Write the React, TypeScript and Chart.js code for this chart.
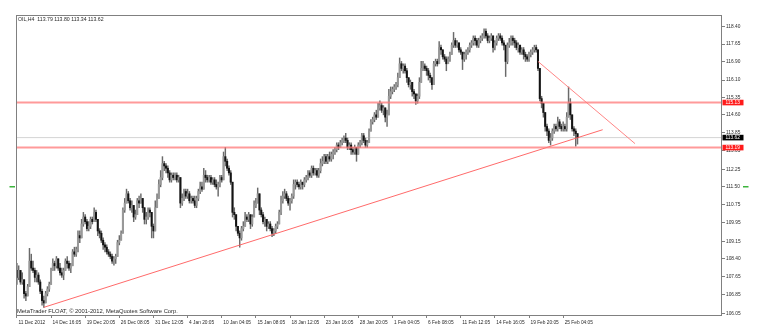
import React, { useEffect, useRef } from "react";
import { Chart, registerables } from "chart.js";

Chart.register(...registerables);

const symbolTitle = "OIL,H4";
const lastBar = ["113.79", "113.80", "113.34", "113.62"];
const copyright = "MetaTrader FLOAT, © 2001-2012, MetaQuotes Software Corp.";

const xLabels = [
  "11 Dec 2012", "14 Dec 16:05", "19 Dec 20:05", "26 Dec 08:05", "31 Dec 12:05",
  "4 Jan 20:05", "10 Jan 04:05", "15 Jan 08:05", "18 Jan 12:05", "23 Jan 16:05",
  "28 Jan 20:05", "1 Feb 04:05", "6 Feb 08:05", "11 Feb 12:05", "14 Feb 16:05",
  "19 Feb 20:05", "25 Feb 04:05",
];
const barsPerLabel = 19;

const yTicks = [
  118.4, 117.65, 116.9, 116.1, 115.35, 114.6, 113.85, 113.05, 112.25, 111.5,
  110.75, 109.95, 109.15, 108.4, 107.65, 106.85, 106.05,
];

const firstOpen = 107.9;

const closes = [
  107.6, 107.9, 107.4, 107.5, 106.9, 106.8, 107.2, 108.3, 108.0, 107.9,
  107.6, 107.7, 107.4, 107.0, 106.6, 106.5, 106.9, 107.1, 107.3, 107.9,
  108.2, 108.1, 108.4, 108.0, 107.8, 107.7, 107.9, 108.3, 108.2, 108.0,
  108.1, 108.7, 108.6, 108.8, 109.4, 109.3, 109.9, 110.2, 110.0, 109.7,
  109.8, 110.1, 110.0, 110.4, 110.1, 109.6, 109.5, 109.2, 109.0, 108.9,
  108.7, 108.6, 108.5, 108.3, 108.4, 108.5, 109.1, 109.2, 109.5, 110.5,
  110.8, 111.2, 110.9, 110.6, 110.7, 110.2, 110.3, 110.9, 110.8, 111.0,
  110.6, 110.1, 110.2, 110.5, 110.4, 109.8, 109.6, 110.6, 111.0, 111.6,
  111.9, 112.5, 112.4, 112.3, 112.1, 111.8, 112.0, 111.9, 112.0, 111.8,
  111.9, 110.8, 111.0, 111.3, 111.1, 111.2, 110.9, 111.0, 110.9, 110.7,
  111.0, 111.3, 111.5, 111.4, 112.0, 111.9, 111.8, 111.9, 111.7, 111.8,
  111.6, 111.5, 111.6, 111.9, 111.8, 112.8, 112.6, 112.3, 112.1, 111.7,
  110.4, 110.3, 109.8, 109.5, 109.3, 109.7, 109.8, 110.2, 110.1, 110.3,
  109.9, 110.2, 110.7, 110.8, 111.2, 110.5, 110.3, 110.0, 110.1, 109.8,
  109.9, 109.7, 109.5, 109.6, 109.8, 109.9, 110.4, 110.9, 111.1, 111.2,
  111.0, 110.8, 110.9, 111.1, 111.6, 111.7, 111.6, 111.5, 111.7, 111.6,
  111.8, 111.9, 112.1, 112.0, 112.3, 112.1, 112.2, 112.0, 112.2, 112.5,
  112.6, 112.8, 112.6, 112.8, 112.7, 112.9, 113.0, 113.1, 113.3, 113.2,
  113.4, 113.5, 113.6, 113.5, 113.2, 113.3, 113.1, 113.0, 113.2, 112.9,
  113.3, 113.4, 113.7, 113.5, 113.3, 113.4, 113.9, 114.3, 114.4, 114.6,
  114.5, 114.9, 115.0, 114.8, 114.9, 114.5, 114.6, 115.4, 115.6, 115.7,
  115.8, 115.9, 116.2, 116.8, 116.6, 116.7, 116.5, 116.2, 115.9, 116.0,
  115.6, 115.5, 115.2, 115.4, 116.0, 116.6, 116.7, 116.6, 116.5, 116.3,
  116.2, 115.9, 116.8, 116.9, 116.8, 117.5, 117.4, 117.1, 117.0, 116.8,
  117.0, 117.2, 117.6, 117.8, 117.6, 117.7, 117.4, 117.3, 117.0, 117.2,
  117.3, 117.4, 117.6, 117.7, 117.9, 117.8, 117.6, 117.8, 117.9, 118.0,
  118.2, 118.0, 117.8, 117.9, 118.0, 117.5, 117.7, 117.9, 118.0, 117.9,
  117.7, 117.6, 116.9, 117.6, 117.7, 117.9, 117.8, 117.7, 117.5, 117.6,
  117.3, 117.4, 117.2, 117.1, 117.0, 117.2, 117.3, 117.4, 117.5, 117.4,
  116.6, 115.3, 115.1, 114.7, 114.1, 113.9, 113.5, 113.6, 113.9, 114.1,
  114.0, 114.3, 114.1, 114.0, 114.1, 114.0, 114.5, 115.1, 114.6, 114.0,
  113.9, 113.79, 113.62,
];

const highs = [
  108.2, 108.1, 107.9, 107.8, 107.4, 107.0, 107.3, 108.85, 108.6, 108.3,
  108.0, 107.9, 107.8, 107.5, 107.1, 106.8, 107.0, 107.2, 107.4, 108.0,
  108.4, 108.3, 108.5, 108.4, 108.2, 108.0, 108.0, 108.4, 108.5, 108.3,
  108.2, 108.8, 108.9, 108.9, 109.6, 109.6, 110.1, 110.4, 110.3, 110.1,
  110.0, 110.2, 110.2, 110.6, 110.5, 110.1, 109.7, 109.6, 109.3, 109.1,
  109.0, 108.8, 108.7, 108.6, 108.5, 108.6, 109.2, 109.4, 109.6, 110.6,
  111.0, 111.4, 111.3, 111.0, 110.9, 110.7, 110.5, 111.0, 111.1, 111.2,
  111.0, 110.6, 110.4, 110.6, 110.6, 110.4, 109.9, 110.9, 111.2, 111.8,
  112.2, 112.8, 112.6, 112.5, 112.4, 112.2, 112.1, 112.1, 112.1, 112.1,
  112.0, 111.9, 111.2, 111.4, 111.4, 111.4, 111.3, 111.1, 111.1, 111.1,
  111.1, 111.4, 111.7, 111.7, 112.3, 112.2, 112.0, 112.0, 112.0, 111.9,
  111.9, 111.8, 111.7, 112.0, 112.0, 113.0, 113.2, 112.7, 112.4, 112.2,
  110.9, 110.6, 110.2, 109.8, 109.6, 109.8, 110.0, 110.4, 110.3, 110.4,
  110.3, 110.3, 110.9, 111.0, 111.45, 111.1, 110.6, 110.4, 110.2, 110.1,
  110.0, 110.0, 109.8, 109.7, 109.9, 110.0, 110.5, 111.1, 111.3, 111.4,
  111.3, 111.1, 111.0, 111.2, 111.8, 111.8, 111.8, 111.7, 111.8, 111.7,
  111.9, 112.0, 112.2, 112.2, 112.4, 112.4, 112.3, 112.3, 112.3, 112.7,
  112.8, 112.9, 112.9, 112.9, 113.0, 113.0, 113.1, 113.2, 113.4, 113.4,
  113.5, 113.6, 113.7, 113.8, 113.6, 113.4, 113.4, 113.2, 113.3, 113.2,
  113.4, 113.5, 113.8, 113.8, 113.6, 113.5, 114.0, 114.4, 114.5, 114.7,
  114.8, 115.1, 115.2, 115.1, 115.0, 114.9, 114.8, 115.7, 115.8, 115.8,
  115.9, 116.0, 116.4, 117.05, 116.9, 116.8, 116.8, 116.6, 116.2, 116.1,
  116.0, 115.7, 115.5, 115.5, 116.2, 116.9, 116.9, 116.8, 116.7, 116.6,
  116.4, 116.2, 116.9, 117.0, 117.0, 117.75, 117.6, 117.4, 117.2, 117.1,
  117.1, 117.3, 117.7, 118.15, 117.9, 117.8, 117.7, 117.5, 117.3, 117.3,
  117.4, 117.5, 117.7, 117.8, 118.0, 118.0, 117.9, 117.9, 118.0, 118.1,
  118.3, 118.3, 118.1, 118.0, 118.1, 118.0, 117.8, 118.0, 118.1, 118.1,
  118.0, 117.8, 117.6, 117.7, 117.9, 118.0, 118.0, 117.9, 117.8, 117.7,
  117.6, 117.5, 117.5, 117.3, 117.2, 117.3, 117.4, 117.5, 117.6, 117.6,
  117.4, 116.6, 115.4, 115.1, 114.7, 114.2, 114.0, 113.8, 114.0, 114.2,
  114.2, 114.5, 114.4, 114.2, 114.3, 114.2, 114.7, 115.8, 115.3, 114.6,
  114.1, 114.0, 113.8,
];

const lows = [
  107.3, 107.5, 107.3, 107.3, 106.7, 106.6, 106.8, 107.2, 107.9, 107.8,
  107.4, 107.4, 107.3, 106.9, 106.4, 106.31, 106.5, 106.8, 107.0, 107.3,
  107.9, 107.9, 108.0, 107.9, 107.7, 107.6, 107.5, 107.9, 108.0, 107.9,
  107.8, 108.1, 108.5, 108.5, 108.7, 109.1, 109.3, 109.8, 109.9, 109.6,
  109.6, 109.7, 109.9, 110.0, 110.0, 109.4, 109.3, 109.1, 108.8, 108.7,
  108.6, 108.5, 108.4, 108.2, 108.13, 108.2, 108.5, 109.0, 109.2, 109.5,
  110.4, 110.8, 110.8, 110.5, 110.4, 110.0, 110.1, 110.3, 110.6, 110.8,
  110.4, 109.9, 109.9, 110.1, 110.2, 109.3, 109.3, 109.6, 110.6, 111.0,
  111.5, 111.8, 112.2, 112.1, 111.9, 111.7, 111.7, 111.8, 111.8, 111.7,
  111.7, 110.6, 110.7, 110.9, 111.0, 111.0, 110.8, 110.8, 110.8, 110.6,
  110.6, 110.9, 111.2, 111.3, 111.4, 111.7, 111.7, 111.7, 111.6, 111.6,
  111.5, 111.4, 111.1, 111.5, 111.7, 111.8, 112.4, 112.2, 112.0, 111.6,
  110.2, 110.1, 109.6, 109.4, 108.9, 109.2, 109.6, 109.8, 110.0, 110.0,
  109.7, 109.8, 110.2, 110.6, 110.8, 110.3, 110.2, 109.9, 109.8, 109.6,
  109.7, 109.6, 109.35, 109.4, 109.5, 109.7, 109.9, 110.3, 110.8, 111.0,
  110.9, 110.7, 110.5, 110.8, 111.0, 111.4, 111.5, 111.4, 111.4, 111.4,
  111.5, 111.7, 111.8, 111.9, 111.9, 112.0, 112.0, 111.9, 111.9, 112.1,
  112.4, 112.5, 112.5, 112.5, 112.6, 112.6, 112.7, 112.9, 113.0, 113.1,
  113.2, 113.3, 113.4, 113.4, 113.1, 113.1, 112.9, 112.9, 112.9, 112.6,
  112.9, 113.2, 113.3, 113.4, 113.2, 113.2, 113.4, 113.9, 114.2, 114.3,
  114.4, 114.5, 114.8, 114.7, 114.6, 114.3, 114.1, 114.6, 115.3, 115.5,
  115.6, 115.7, 115.8, 116.2, 116.5, 116.4, 116.4, 116.0, 115.8, 115.7,
  115.4, 115.3, 115.05, 115.1, 115.3, 116.0, 116.5, 116.5, 116.3, 116.1,
  116.0, 115.7, 115.9, 116.7, 116.7, 116.8, 117.2, 117.0, 116.9, 116.5,
  116.8, 116.9, 117.2, 117.5, 117.5, 117.5, 117.3, 117.2, 116.55, 116.9,
  117.0, 117.2, 117.3, 117.5, 117.6, 117.6, 117.5, 117.5, 117.7, 117.8,
  117.9, 117.9, 117.7, 117.7, 117.8, 117.3, 117.4, 117.6, 117.8, 117.8,
  117.6, 117.4, 116.25, 116.8, 117.5, 117.6, 117.6, 117.5, 117.4, 117.3,
  117.2, 117.2, 117.0, 116.9, 116.9, 116.9, 117.1, 117.2, 117.3, 117.3,
  116.5, 115.2, 114.9, 114.5, 113.9, 113.7, 113.4, 113.3, 113.5, 113.8,
  113.9, 113.9, 114.0, 113.9, 113.9, 113.9, 113.9, 114.5, 114.4, 113.9,
  113.7, 113.25, 113.34,
];

const supportLevel = 113.19;
const resistanceLevel = 115.13;
const bidLevel = 113.62;
const markerLevel = 111.5;
const upTrend = [
  { x: 15, y: 106.31 },
  { x: 326, y: 113.96 },
];
const downTrend = [
  { x: 290, y: 116.9 },
  { x: 344, y: 113.36 },
];

const X_MIN = -0.5;
const X_MAX = 392.4;
const Y_MIN = 105.98;
const Y_MAX = 118.9;

const TICK_FONT = { family: "Liberation Sans", size: 4.8 };
const TEXT_COLOR = "#2a2a2a";

export default function App() {
  const ref = useRef<HTMLCanvasElement | null>(null);

  useEffect(() => {
    const canvas = ref.current;
    if (!canvas) return;

    const opens = closes.map((_, i) => (i === 0 ? firstOpen : closes[i - 1]));
    const bodies = closes.map((c, i) => {
      const o = opens[i];
      const lo = Math.min(o, c);
      const hi = Math.max(o, c);
      return { x: i, y: hi - lo < 0.03 ? [lo - 0.015, hi + 0.015] : [lo, hi] };
    });
    const bodyColors = closes.map((c, i) => (c >= opens[i] ? "#999999" : "#141414"));
    const wicks = closes.map((c, i) => ({
      x: i,
      y: [Math.min(lows[i], opens[i], c), Math.max(highs[i], opens[i], c)],
    }));

    const hLine = (v: number) => [
      { x: X_MIN, y: v },
      { x: X_MAX, y: v },
    ];

    const overlay = {
      id: "overlay",
      afterDraw(chart: any) {
        const { ctx, chartArea: a } = chart;
        const y = chart.scales.y;
        ctx.save();
        ctx.strokeStyle = "#808080";
        ctx.lineWidth = 1;
        ctx.strokeRect(
          Math.round(a.left) + 0.5,
          Math.round(a.top) + 0.5,
          Math.round(a.right - a.left) - 1,
          Math.round(a.bottom - a.top)
        );
        ctx.fillStyle = TEXT_COLOR;
        ctx.textBaseline = "middle";
        ctx.textAlign = "left";
        ctx.font = '5.2px "Liberation Sans"';
        ctx.fillText(symbolTitle + "  " + lastBar.join(" "), a.left + 2, a.top + 4.3);
        ctx.font = '5.8px "Liberation Sans"';
        ctx.fillText(copyright, a.left + 1, a.bottom - 3.5);
        const boxes = [
          { v: resistanceLevel, bg: "#ff1a1a" },
          { v: bidLevel, bg: "#000000" },
          { v: supportLevel, bg: "#ff1a1a" },
        ];
        ctx.font = '4.8px "Liberation Sans"';
        for (const b of boxes) {
          const py = y.getPixelForValue(b.v);
          ctx.fillStyle = b.bg;
          ctx.fillRect(a.right + 0.5, py - 2.8, 21, 5.6);
          ctx.fillStyle = "#ffffff";
          ctx.fillText(b.v.toFixed(2), a.right + 3.5, py);
        }
        const gy = y.getPixelForValue(markerLevel);
        ctx.strokeStyle = "#3cb43c";
        ctx.lineWidth = 1.5;
        ctx.beginPath();
        ctx.moveTo(9.5, gy);
        ctx.lineTo(15, gy);
        ctx.moveTo(743, gy);
        ctx.lineTo(748.5, gy);
        ctx.stroke();
        ctx.restore();
      },
    };

    const chart = new Chart(canvas, {
      type: "bar",
      data: {
        datasets: [
          {
            type: "line",
            data: hLine(resistanceLevel),
            borderColor: "rgba(255,120,120,0.75)",
            borderWidth: 2,
            pointRadius: 0,
            order: -2,
          } as any,
          {
            type: "line",
            data: hLine(supportLevel),
            borderColor: "rgba(255,120,120,0.75)",
            borderWidth: 2,
            pointRadius: 0,
            order: -2,
          } as any,
          {
            type: "line",
            data: upTrend,
            borderColor: "rgba(255,90,90,0.9)",
            borderWidth: 1,
            pointRadius: 0,
            order: -1,
          } as any,
          {
            type: "line",
            data: downTrend,
            borderColor: "rgba(255,120,120,0.9)",
            borderWidth: 1,
            pointRadius: 0,
            order: -1,
          } as any,
          {
            type: "bar",
            data: bodies,
            backgroundColor: bodyColors,
            barThickness: 1.4,
            grouped: false,
            order: 1,
          } as any,
          {
            type: "bar",
            data: wicks,
            backgroundColor: "#6a6a6a",
            barThickness: 0.8,
            grouped: false,
            order: 2,
          } as any,
          {
            type: "line",
            data: hLine(bidLevel),
            borderColor: "#d4d4d4",
            borderWidth: 1,
            pointRadius: 0,
            order: 3,
          } as any,
        ],
      },
      options: {
        responsive: false,
        animation: false,
        events: [],
        layout: { padding: { left: 16, top: 15, right: 0, bottom: 0 } },
        plugins: { legend: { display: false }, tooltip: { enabled: false }, title: { display: false } },
        scales: {
          x: {
            type: "linear",
            min: X_MIN,
            max: X_MAX,
            offset: false,
            afterBuildTicks: (s: any) => {
              s.ticks = xLabels.map((_, k) => ({ value: k * barsPerLabel }));
            },
            afterFit: (s: any) => {
              s.height = 20;
            },
            ticks: {
              autoSkip: false,
              maxRotation: 0,
              align: "start",
              labelOffset: 1.5,
              padding: 1.5,
              font: TICK_FONT,
              color: TEXT_COLOR,
              callback: (_v: any, i: number) => xLabels[i],
            },
            grid: { drawOnChartArea: false, drawTicks: true, tickLength: 3, color: "#808080", offset: false },
            border: { display: false },
          },
          y: {
            type: "linear",
            position: "right",
            min: Y_MIN,
            max: Y_MAX,
            afterBuildTicks: (s: any) => {
              s.ticks = yTicks.map((v) => ({ value: v }));
            },
            afterFit: (s: any) => {
              s.width = 40;
            },
            ticks: {
              autoSkip: false,
              padding: 1,
              font: TICK_FONT,
              color: TEXT_COLOR,
              callback: (v: any) => Number(v).toFixed(2),
            },
            grid: { drawOnChartArea: false, drawTicks: true, tickLength: 3, color: "#808080" },
            border: { display: false },
          },
        },
      } as any,
      plugins: [overlay],
    });

    return () => chart.destroy();
  }, []);

  return (
    <div style={{ position: "fixed", left: 0, top: 0, width: 762, height: 335, background: "#ffffff" }}>
      <canvas ref={ref} width={762} height={335} style={{ width: 762, height: 335, display: "block" }} />
    </div>
  );
}
